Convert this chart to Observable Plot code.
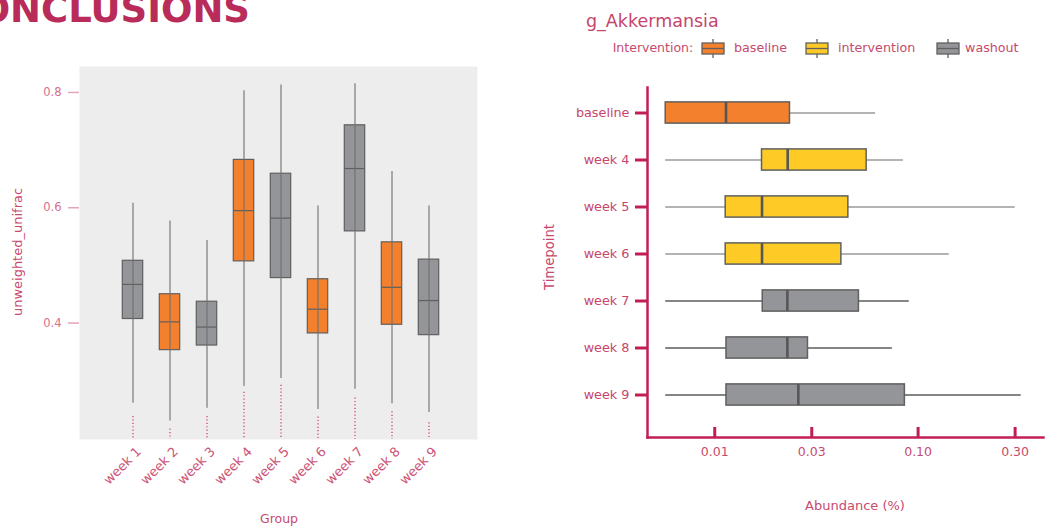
<!DOCTYPE html>
<html><head><meta charset="utf-8">
<script src="https://cdn.jsdelivr.net/npm/d3@7"></script>
<script src="https://cdn.jsdelivr.net/npm/@observablehq/plot@0.6"></script>
<style>
html,body{margin:0;padding:0;background:#fff;}
#wrap{position:relative;width:1052px;height:527px;overflow:hidden;font-family:"DejaVu Sans",sans-serif;}
#left,#right,#overlay{position:absolute;top:0;}
#left{left:0px;} #right{left:540px;} #overlay{left:0px;pointer-events:none;}
</style></head><body>
<div id="wrap"><div id="left"></div><div id="right"></div><svg id="overlay" width="1052" height="527"></svg></div>
<script>
// ---------- data: left panel (unweighted_unifrac by Group) ----------
const weeks = ["week 1","week 2","week 3","week 4","week 5","week 6","week 7","week 8","week 9"];
const weekPhase = ["washout","baseline","washout","baseline","washout","baseline","washout","baseline","washout"];
const uLow  = [0.261,0.230,0.252,0.290,0.304,0.250,0.285,0.260,0.245];
const uQ1   = [0.407,0.353,0.361,0.507,0.478,0.382,0.559,0.397,0.379];
const uMed  = [0.467,0.402,0.393,0.595,0.582,0.424,0.668,0.462,0.439];
const uQ3   = [0.508,0.450,0.437,0.683,0.659,0.476,0.743,0.540,0.510];
const uHigh = [0.608,0.577,0.543,0.803,0.813,0.603,0.815,0.663,0.603];
const uOutlierTop = [0.238,0.216,0.238,0.280,0.292,0.237,0.270,0.246,0.227];
const uDomain = [0.198, 0.845];
const uTicks = [0.4, 0.6, 0.8];

// ---------- data: right panel (g_Akkermansia abundance by Timepoint) ----------
const timepoints = ["baseline","week 4","week 5","week 6","week 7","week 8","week 9"];
const tpPhase = ["baseline","intervention","intervention","intervention","washout","washout","washout"];
const aLow  = [0.00574,0.00574,0.00574,0.00574,0.00574,0.00574,0.00574];
const aQ1   = [0.00574,0.01708,0.01132,0.01132,0.01722,0.01142,0.01142];
const aMed  = [0.01136,0.02284,0.01708,0.01708,0.02276,0.02276,0.02577];
const aQ3   = [0.02344,0.05585,0.04540,0.04195,0.05117,0.02874,0.08610];
const aHigh = [0.0618,0.0846,0.3003,0.1423,0.0905,0.0747,0.3214];
const aDomain = [0.00467, 0.4137];
const aTicks = [0.01, 0.03, 0.1, 0.3];

const phases = ["baseline","intervention","washout"];
const phaseColors = ["#f3802d","#fdca26","#949599"];

const FONT = "DejaVu Sans, sans-serif";
const CRIMSON = "#c21e56";

const leftData = weeks.map((w,i)=>({week:w, phase:weekPhase[i], low:uLow[i], q1:uQ1[i], med:uMed[i], q3:uQ3[i], high:uHigh[i], out:uOutlierTop[i]}));
const rightData = timepoints.map((t,i)=>({tp:t, phase:tpPhase[i], low:aLow[i], q1:aQ1[i], med:aMed[i], q3:aQ3[i], high:aHigh[i]}));

const bw = 8.3; // box inset
const left = Plot.plot({
  width: 540, height: 527,
  marginLeft: 79, marginRight: 63, marginTop: 66, marginBottom: 88,
  style: {fontFamily: FONT, fontSize: "12px", background: "none", overflow: "visible"},
  x: {type: "band", domain: weeks, padding: 0, insetLeft: 32, insetRight: 27},
  y: {domain: uDomain},
  color: {domain: phases, range: phaseColors},
  marks: [
    Plot.frame({fill: "#ededed", stroke: null}),
    Plot.ruleX(leftData, {x: "week", y1: "out", y2: uDomain[0], stroke: "#d0426b", strokeWidth: 1.3, strokeDasharray: "1.2 2.2"}),
    Plot.barY(leftData, {x: "week", y1: "q1", y2: "q3", fill: "phase", stroke: "#5f5f5f", strokeWidth: 1.2, insetLeft: bw, insetRight: bw}),
    Plot.tickY(leftData, {x: "week", y: "med", stroke: "#5f5f5f", strokeWidth: 1.2, insetLeft: bw, insetRight: bw}),
    Plot.ruleX(leftData, {x: "week", y1: "low", y2: "high", stroke: "#6f6f6f", strokeWidth: 1.1}),
    Plot.axisY({ticks: uTicks, tickFormat: d => d.toFixed(1), tickSize: 11, tickPadding: 7, stroke: "#e4a5b5", strokeWidth: 1.5, fill: "#d66f8c", fontSize: 11.5, label: null}),
    Plot.axisX({tickSize: 0, tickRotate: -45, tickPadding: 10, dx: 6, fill: "#cc5476", fontSize: 13, label: null})
  ]
});
document.getElementById("left").appendChild(left);

const yi = 12.9; // box inset vertical
const right = Plot.plot({
  width: 512, height: 527,
  marginLeft: 107, marginRight: 9, marginTop: 87, marginBottom: 90,
  style: {fontFamily: FONT, fontSize: "12px", background: "none", overflow: "visible"},
  x: {type: "log", domain: aDomain},
  y: {type: "band", domain: timepoints, padding: 0, insetBottom: 16.5},
  color: {domain: phases, range: phaseColors},
  marks: [
    Plot.ruleY(rightData, {y: "tp", x1: "low", x2: "high", stroke: d => d.phase === "washout" ? "#5c5c5c" : "#9a9a9a", strokeWidth: 1.3}),
    Plot.barX(rightData, {y: "tp", x1: "q1", x2: "q3", fill: "phase", stroke: "#606060", strokeWidth: 1.5, insetTop: yi, insetBottom: yi}),
    Plot.tickX(rightData, {y: "tp", x: "med", stroke: "#575757", strokeWidth: 2.6, insetTop: yi, insetBottom: yi}),
    Plot.frame({anchor: "left", stroke: CRIMSON, strokeWidth: 2.5}),
    Plot.frame({anchor: "bottom", stroke: CRIMSON, strokeWidth: 2.5}),
    Plot.tickX(aTicks, {x: d => d, insetTop: 340, stroke: CRIMSON, strokeWidth: 3}),
    Plot.axisY({tickSize: 12, tickPadding: 6, stroke: CRIMSON, strokeWidth: 3, fill: "#c8456b", fontSize: 12.8, label: null}),
    Plot.axisX({ticks: aTicks, tickFormat: d3.format(".2f"), tickSize: 0, tickPadding: 10, fill: "#c84a6c", fontSize: 12.5, label: null})
  ]
});
document.getElementById("right").appendChild(right);

// ---------- overlay texts & legend ----------
const ov = d3.select("#overlay").style("font-family", FONT);
ov.append("text").attr("x", 250).attr("y", 22).attr("text-anchor", "end")
  .attr("font-size", 37).attr("font-weight", 700).attr("fill", "#b92b58").text("CONCLUSIONS");
ov.append("text").attr("x", 586).attr("y", 26.5)
  .attr("font-size", 17.5).attr("fill", "#c4466c").text("g_Akkermansia");
ov.append("text").attr("transform", "translate(22,252) rotate(-90)").attr("text-anchor", "middle")
  .attr("font-size", 13).attr("fill", "#c84a6e").text("unweighted_unifrac");
ov.append("text").attr("x", 279).attr("y", 523).attr("text-anchor", "middle")
  .attr("font-size", 12.5).attr("fill", "#c84a6e").text("Group");
ov.append("text").attr("transform", "translate(554,257) rotate(-90)").attr("text-anchor", "middle")
  .attr("font-size", 13.2).attr("fill", "#c84a6e").text("Timepoint");
ov.append("text").attr("x", 855).attr("y", 510).attr("text-anchor", "middle")
  .attr("font-size", 13).attr("fill", "#c84a6e").text("Abundance (%)");

const legendTitleX = 612.7, legendBase = 52;
ov.append("text").attr("x", legendTitleX).attr("y", legendBase).attr("font-size", 12.5).attr("fill", "#c54a6d").text("Intervention:");
const swatchX = [702, 806, 937];
const labelX = [734, 838, 965];
phases.forEach((p, i) => {
  const g = ov.append("g").attr("transform", `translate(${swatchX[i]},43)`);
  g.append("line").attr("x1", 11).attr("x2", 11).attr("y1", -4).attr("y2", 15).attr("stroke", "#606060").attr("stroke-width", 1.3);
  g.append("rect").attr("x", 0).attr("y", 0).attr("width", 22).attr("height", 11).attr("fill", phaseColors[i]).attr("stroke", "#606060").attr("stroke-width", 1.3);
  g.append("line").attr("x1", 0).attr("x2", 22).attr("y1", 5.5).attr("y2", 5.5).attr("stroke", "#606060").attr("stroke-width", 1.3);
  ov.append("text").attr("x", labelX[i]).attr("y", legendBase).attr("font-size", 12.7).attr("fill", "#c54a6d").text(p);
});
</script>
</body></html>
